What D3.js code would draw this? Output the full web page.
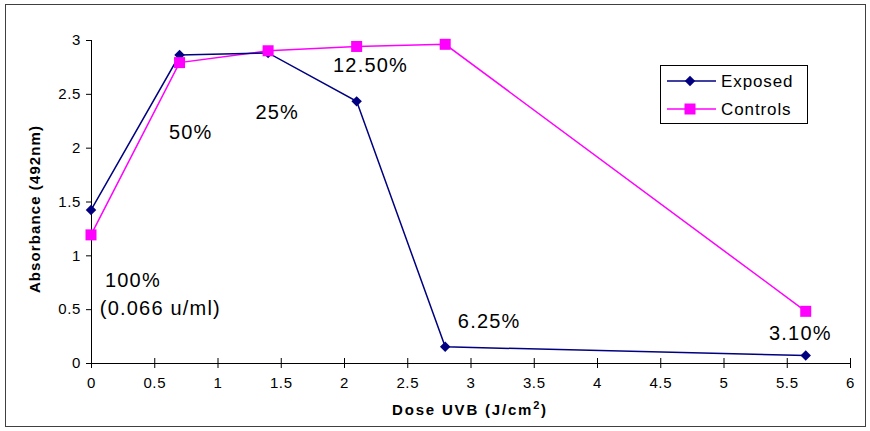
<!DOCTYPE html>
<html><head><meta charset="utf-8">
<script src="https://cdn.jsdelivr.net/npm/d3@7"></script>
<style>body{margin:0;background:#fff}svg{display:block}</style>
</head><body>
<svg id="c" width="870" height="431"></svg>
<script>
const doses = [0, 0.7, 1.4, 2.1, 2.8, 5.65];
const exposed = [1.42, 2.86, 2.88, 2.43, 0.15, 0.07];
const controls = [1.19, 2.79, 2.90, 2.94, 2.96, 0.48];
const xTicks = [0,0.5,1,1.5,2,2.5,3,3.5,4,4.5,5,5.5,6];
const yTicks = [0,0.5,1,1.5,2,2.5,3];
const annotations = [
  {text:"100%", x:0.11, y:0.706},
  {text:"(0.066 u/ml)", x:0.07, y:0.45},
  {text:"50%", x:0.616, y:2.08},
  {text:"25%", x:1.30, y:2.266},
  {text:"12.50%", x:1.913, y:2.70},
  {text:"6.25%", x:2.90, y:0.325},
  {text:"3.10%", x:5.36, y:0.214}
];

const svg = d3.select("#c");
const font = "'Liberation Sans', Arial, sans-serif";
svg.append("rect").attr("x",5.5).attr("y",4.5).attr("width",860).attr("height",422)
  .attr("fill","#fff").attr("stroke","#404040").attr("stroke-width",1);

const x = d3.scaleLinear().domain([0,6]).range([91,850]);
const y = d3.scaleLinear().domain([0,3]).range([363,40]);

const gy = svg.append("g").attr("transform","translate(91,0)")
  .call(d3.axisLeft(y).tickValues(yTicks).tickSize(5).tickPadding(5).tickFormat(d3.format("")));
const gx = svg.append("g").attr("transform","translate(0,363)")
  .call(d3.axisBottom(x).tickValues(xTicks).tickSize(5).tickPadding(9).tickFormat(d3.format("")));
gx.selectAll(".tick line").attr("y1",-5);
[gx,gy].forEach(g=>{
  g.select(".domain").attr("stroke","#000");
  g.selectAll(".tick line").attr("stroke","#000");
  g.selectAll("text").attr("font-family",font).attr("font-size",15).attr("letter-spacing",0.6).attr("fill","#000");
});
gy.select(".domain").attr("d","M0.5,40V363.5");
gx.select(".domain").attr("d","M91,0.5H850");

svg.append("text").attr("transform","translate(40,209) rotate(-90)")
  .attr("text-anchor","middle").attr("font-family",font).attr("font-weight","bold")
  .attr("font-size",15).attr("letter-spacing",1.1).text("Absorbance (492nm)");
const xl = svg.append("text").attr("x",470).attr("y",415).attr("text-anchor","middle")
  .attr("font-family",font).attr("font-weight","bold").attr("font-size",15).attr("letter-spacing",1.8);
xl.append("tspan").text("Dose UVB (J/cm");
xl.append("tspan").attr("dy",-6).attr("font-size",11).text("2");
xl.append("tspan").attr("dy",6).text(")");

const line = d3.line().x((d,i)=>x(doses[i])).y(d=>y(d));
svg.append("path").datum(controls).attr("d",line).attr("fill","none").attr("stroke","#ff00ff").attr("stroke-width",1.5);
svg.append("path").datum(exposed).attr("d",line).attr("fill","none").attr("stroke","#000080").attr("stroke-width",1.5);

const diamond = d3.symbol().type(d3.symbolDiamond2).size(70);
svg.selectAll(".ex").data(exposed).enter().append("path")
  .attr("transform",(d,i)=>`translate(${x(doses[i])},${y(d)})`).attr("d",diamond).attr("fill","#000080");
svg.selectAll(".co").data(controls).enter().append("rect")
  .attr("x",(d,i)=>x(doses[i])-5.5).attr("y",d=>y(d)-5.5).attr("width",11).attr("height",11).attr("fill","#ff00ff");

svg.selectAll(".ann").data(annotations).enter().append("text")
  .attr("x",d=>x(d.x)).attr("y",d=>y(d.y)).attr("font-family",font).attr("font-size",20)
  .attr("letter-spacing",1.2).attr("fill","#000").text(d=>d.text);

// legend
const lg = svg.append("g");
lg.append("rect").attr("x",660.5).attr("y",65.5).attr("width",147).attr("height",58).attr("fill","#fff").attr("stroke","#000");
const items = [{name:"Exposed",color:"#000080",sym:"d"},{name:"Controls",color:"#ff00ff",sym:"s"}];
items.forEach((it,i)=>{
  const cy = 81 + i*28;
  lg.append("line").attr("x1",667).attr("x2",716).attr("y1",cy).attr("y2",cy).attr("stroke",it.color).attr("stroke-width",1.5);
  if(it.sym==="d") lg.append("path").attr("transform",`translate(690,${cy})`).attr("d",diamond).attr("fill",it.color);
  else lg.append("rect").attr("x",684.5).attr("y",cy-5.5).attr("width",11).attr("height",11).attr("fill",it.color);
  lg.append("text").attr("x",721).attr("y",cy+6).attr("font-family",font).attr("font-size",17).attr("letter-spacing",0.9).text(it.name);
});
</script>
</body></html>
